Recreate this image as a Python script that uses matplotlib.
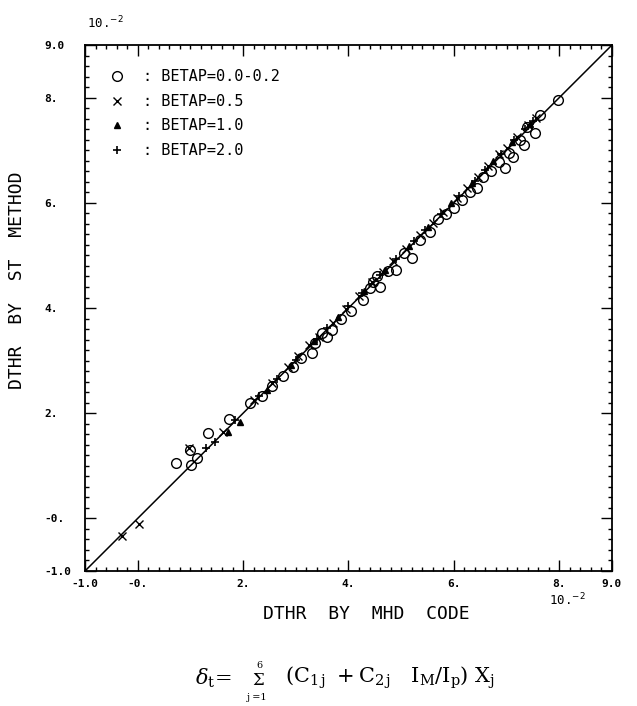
import matplotlib
matplotlib.use("Agg")
import matplotlib.pyplot as plt
from matplotlib.ticker import MultipleLocator

# ---- data (units of 10^-2) ----
circ_x = [0.72, 1.02, 1.12, 0.99, 1.33, 1.73, 2.13, 2.35, 2.55, 2.75, 2.95, 3.10, 3.30, 3.36, 3.59, 3.68,
          3.50, 3.85, 4.05, 4.28, 4.47, 4.40, 4.55, 4.60, 4.75, 4.91, 5.05, 5.20, 5.35, 5.55, 5.70, 5.85,
          6.00, 6.15, 6.30, 6.43, 6.55, 6.70, 6.85, 6.97, 7.05, 7.13, 7.25, 7.34, 7.38, 7.54, 7.63, 7.97]
circ_y = [1.05, 1.02, 1.15, 1.30, 1.62, 1.89, 2.19, 2.33, 2.52, 2.70, 2.88, 3.05, 3.14, 3.33, 3.45, 3.58,
          3.52, 3.80, 3.95, 4.15, 4.50, 4.38, 4.60, 4.40, 4.70, 4.72, 5.05, 4.96, 5.30, 5.45, 5.70, 5.78,
          5.90, 6.05, 6.20, 6.28, 6.50, 6.60, 6.78, 6.66, 6.95, 6.88, 7.20, 7.10, 7.45, 7.33, 7.67, 7.95]

cross_x = [-0.30, 0.03, 0.98, 1.62, 2.20, 2.55, 2.85, 3.05, 3.25, 3.45, 3.70, 3.95, 4.20, 4.45, 4.65,
           4.85, 5.10, 5.35, 5.60, 5.80, 6.05, 6.25, 6.45, 6.65, 6.85, 7.00, 7.20, 7.40, 7.55]
cross_y = [-0.33, -0.10, 1.33, 1.65, 2.25, 2.58, 2.88, 3.08, 3.30, 3.45, 3.72, 3.98, 4.22, 4.50, 4.68,
           4.90, 5.12, 5.38, 5.62, 5.83, 6.10, 6.28, 6.50, 6.70, 6.92, 7.05, 7.25, 7.48, 7.62]

tri_x = [1.71, 1.94, 2.45, 2.90, 3.35, 3.80, 4.30, 4.70, 5.15, 5.50, 5.95, 6.35, 6.75, 7.10, 7.45]
tri_y = [1.64, 1.84, 2.45, 2.92, 3.38, 3.82, 4.33, 4.72, 5.18, 5.55, 6.00, 6.38, 6.80, 7.15, 7.50]

plus_x = [1.30, 1.47, 1.85, 2.30, 2.65, 3.00, 3.40, 3.60, 4.00, 4.25, 4.60, 4.90, 5.25, 5.45, 5.75,
          6.10, 6.40, 6.60, 6.90, 7.15, 7.35, 7.50]
plus_y = [1.34, 1.46, 1.88, 2.32, 2.66, 3.02, 3.42, 3.62, 4.03, 4.28, 4.62, 4.93, 5.28, 5.48, 5.78,
          6.13, 6.42, 6.63, 6.93, 7.20, 7.40, 7.55]

diag = [-1.0, 9.0]
tick_vals = [-1.0, 0.0, 2.0, 4.0, 6.0, 8.0, 9.0]
tick_labels = ["-1.0", "-0.", "2.", "4.", "6.", "8.", "9.0"]
legend_labels = [": BETAP=0.0-0.2", ": BETAP=0.5", ": BETAP=1.0", ": BETAP=2.0"]

mono = "DejaVu Sans Mono"
W, H = 637, 706


def fx(px):
    return px / W


def fy(py):
    return 1 - py / H


fig = plt.figure(figsize=(6.37, 7.06), dpi=100)
ax = fig.add_axes([0.1334, 0.1912, 0.8273, 0.745])

ax.plot(diag, diag, color="black", lw=1.1, zorder=1)
ax.plot(circ_x, circ_y, linestyle="none", marker="o", ms=7, mfc="none", mec="black", mew=1.0,
        label=legend_labels[0])
ax.plot(cross_x, cross_y, linestyle="none", marker="x", ms=5.5, mec="black", mew=1.0,
        label=legend_labels[1])
ax.plot(tri_x, tri_y, linestyle="none", marker="^", ms=5, mfc="black", mec="black",
        label=legend_labels[2])
ax.plot(plus_x, plus_y, linestyle="none", marker="+", ms=6, mec="black", mew=1.2,
        label=legend_labels[3])

ax.set_xlim(-1, 9)
ax.set_ylim(-1, 9)
ax.set_xticks(tick_vals)
ax.set_xticklabels(tick_labels, family=mono, fontsize=8, fontweight="bold")
ax.set_yticks(tick_vals)
ax.set_yticklabels(tick_labels, family=mono, fontsize=8, fontweight="bold", ha="left")
ax.xaxis.set_minor_locator(MultipleLocator(0.2))
ax.yaxis.set_minor_locator(MultipleLocator(0.2))
ax.tick_params(which="both", direction="in", top=True, right=True, color="black", width=1.0)
ax.tick_params(which="major", length=8)
ax.tick_params(axis="x", which="major", pad=6)
ax.tick_params(axis="y", which="major", pad=29)
ax.tick_params(which="minor", length=3)
for s in ax.spines.values():
    s.set_linewidth(1.3)

ax.set_xlabel("DTHR  BY  MHD  CODE", family=mono, fontsize=13)
ax.xaxis.set_label_coords(0.533, -0.065)
ax.set_ylabel("DTHR  BY  ST  METHOD", family=mono, fontsize=13)
ax.yaxis.set_label_coords(-0.112, 0.553)

leg = ax.legend(loc="upper left", frameon=False, prop={"family": mono, "size": 11},
                handletextpad=1.2, labelspacing=0.62, borderaxespad=1.2, handlelength=1.0,
                borderpad=0.4)

fig.text(fx(87), fy(23), r"10.$^{-2}$", family=mono, fontsize=9, ha="left", va="center")
fig.text(fx(549), fy(600), r"10.$^{-2}$", family=mono, fontsize=9, ha="left", va="center")

plt.rcParams["mathtext.fontset"] = "dejavuserif"
fig.text(fx(195), fy(678), r"$\delta_{\rm t}\!=$", fontsize=15, ha="left", va="center")
fig.text(fx(258), fy(680), r"$\Sigma$", fontsize=12, ha="center", va="center")
fig.text(fx(259), fy(665), "6", family="DejaVu Serif", fontsize=7, ha="center", va="center")
fig.text(fx(257), fy(697), "j =1", family="DejaVu Serif", fontsize=7, ha="center", va="center")
fig.text(fx(285), fy(678),
         r"$(\mathrm{C}_{1\,\rm j}\ +\mathrm{C}_{2\,\rm j}\ \ \ \mathrm{I}_{\rm M}/\mathrm{I}_{\rm p})\ \mathrm{X}_{\rm j}$",
         fontsize=15, ha="left", va="center")

fig.savefig("out.png", dpi=100)
